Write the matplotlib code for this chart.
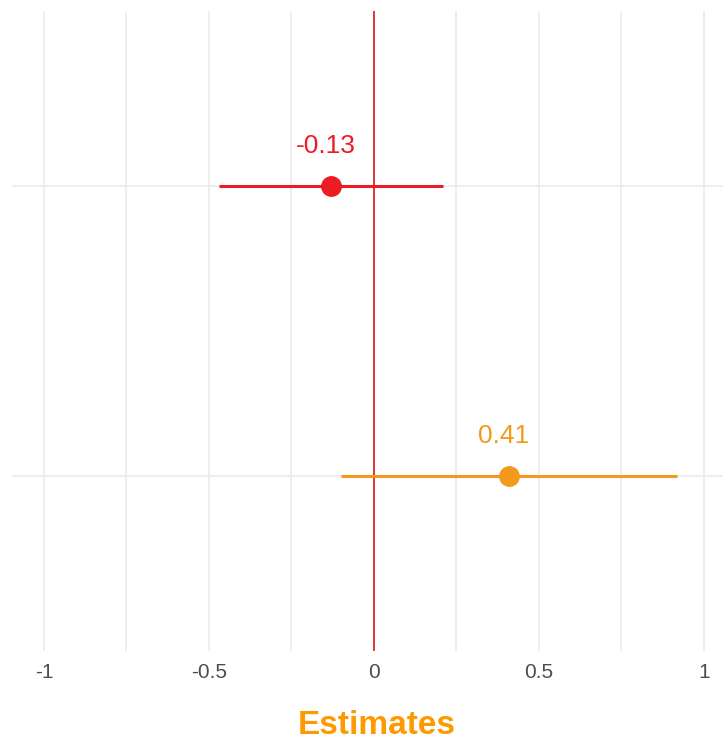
import matplotlib.pyplot as plt

# coefficient estimates with confidence intervals
estimates = [-0.13, 0.41]
lower = [-0.47, -0.10]
upper = [0.21, 0.92]
labels = ["-0.13", "0.41"]
ypos = [2, 1]
colors = ["#EC1C24", "#F39A1E"]
xticks = [-1, -0.5, 0, 0.5, 1]
xticklabels = ["-1", "-0.5", "0", "0.5", "1"]

plt.rcParams['font.family'] = ["Liberation Sans", "DejaVu Sans"]

fig = plt.figure(figsize=(7.23, 7.40), dpi=100)
ax = fig.add_axes([12 / 723, 89 / 740, 711 / 723, 640 / 740])

ax.set_xlim(-1.097, 1.058)
ax.set_ylim(0.397, 2.603)

ax.set_xticks(xticks)
ax.set_xticklabels(xticklabels)
ax.set_xticks([-0.75, -0.25, 0.25, 0.75], minor=True)
ax.set_yticks(ypos)
ax.set_yticklabels([])
ax.tick_params(axis='both', which='both', length=0)
ax.tick_params(axis='x', labelsize=15, labelcolor="#4D4D4D", pad=9)
ax.grid(True, which='both', color="#EBEBEB", linewidth=1.2)
ax.set_axisbelow(True)
for s in ax.spines.values():
    s.set_visible(False)

ax.axvline(0, color="#E0282E", linewidth=1.3, zorder=2)

for est, lo, hi, lab, y, c in zip(estimates, lower, upper, labels, ypos, colors):
    ax.plot([lo, hi], [y, y], color=c, linewidth=2.2, zorder=3, solid_capstyle='butt')
    ax.plot(est, y, 'o', color=c, markersize=14, zorder=4)
    ax.annotate(lab, (est, y), xytext=(-4, 24), textcoords='offset points',
                ha='center', va='baseline', color=c, fontsize=19)

fig.text(377 / 723, 6 / 740, "Estimates", color="#FF9900", fontsize=24,
         fontweight='bold', ha='center', va='baseline')

fig.savefig("out.png", dpi=100)
